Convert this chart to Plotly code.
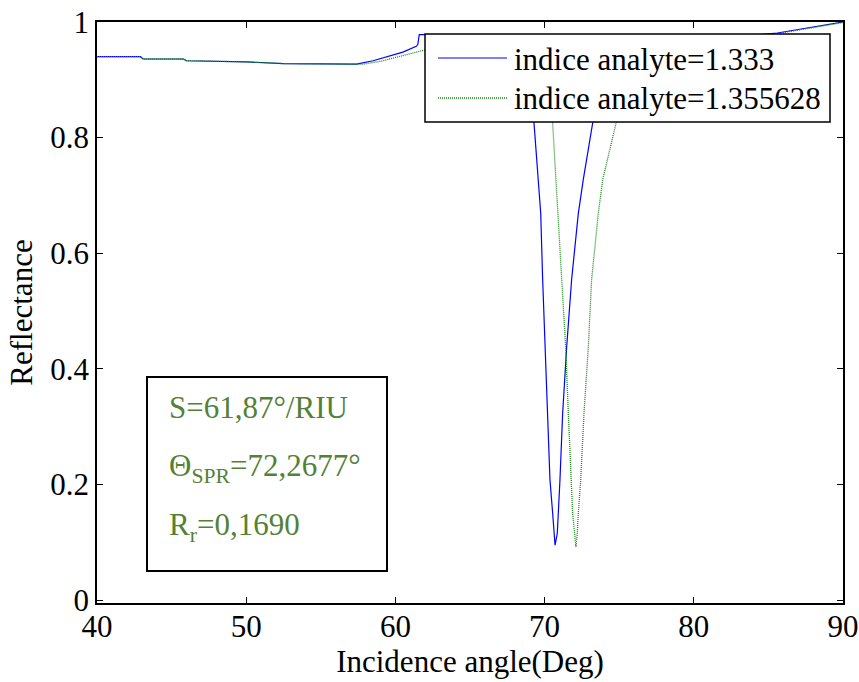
import plotly.graph_objects as go

# ---------------- data ----------------
blue_angle = [40, 42.9, 43.1, 45.8, 46.0, 50, 52.5, 55, 57.4, 58.5, 59.5, 60.5, 61.4, 61.5, 61.6,
              63, 65, 67, 68.3, 69.0, 69.29, 69.58, 69.74, 69.87, 70.03, 70.18, 70.36, 70.54, 70.70,
              70.85, 70.92, 71.03, 71.21, 71.48, 71.81, 72.26, 72.59, 73.22, 74.5, 76, 78, 80, 83,
              85.6, 87, 88.5, 90]
blue_refl = [0.940, 0.940, 0.936, 0.936, 0.933, 0.931, 0.928, 0.927, 0.927, 0.933, 0.940, 0.948, 0.958, 0.961, 0.978,
             0.978, 0.970, 0.950, 0.910, 0.870, 0.825, 0.727, 0.669, 0.554, 0.438, 0.323, 0.208, 0.150, 0.095,
             0.115, 0.150, 0.208, 0.323, 0.438, 0.554, 0.669, 0.727, 0.825, 0.900, 0.935, 0.955, 0.966, 0.975,
             0.981, 0.987, 0.994, 1.000]

green_angle = [40, 42.9, 43.1, 45.8, 46.0, 50, 52.5, 55, 57.8, 59, 60, 61, 62, 64, 66, 68, 69.5,
               70.2, 70.54, 70.76, 70.92, 71.14, 71.41, 71.59, 71.75, 71.88, 72.10, 72.19, 72.26,
               72.42, 72.64, 72.93, 73.15, 73.60, 73.89, 74.79, 76, 78, 80, 83, 85.6, 87, 88.5, 90]
green_refl = [0.940, 0.940, 0.936, 0.936, 0.933, 0.931, 0.928, 0.927, 0.927, 0.932, 0.938, 0.945, 0.952, 0.962, 0.965, 0.950, 0.910,
              0.870, 0.825, 0.727, 0.669, 0.554, 0.438, 0.323, 0.208, 0.150, 0.092, 0.115, 0.150,
              0.208, 0.323, 0.438, 0.554, 0.669, 0.727, 0.825, 0.895, 0.935, 0.955, 0.970, 0.980, 0.986, 0.993, 0.999]

series_names = ["indice analyte=1.333", "indice analyte=1.355628"]
x_ticks = [40, 50, 60, 70, 80, 90]
y_ticks = [0, 0.2, 0.4, 0.6, 0.8, 1]
y_ticktext = ["0", "0.2", "0.4", "0.6", "0.8", "1"]
info_lines = ["S=61,87°/RIU", "Θ<sub>SPR</sub>=72,2677°", "R<sub>r</sub>=0,1690"]

# ---------------- layout geometry ----------------
W, H = 859, 682
L, R, T, B = 97, 843, 22, 603
FONT = "Liberation Serif"
BLUE = "#0000ff"
GREEN = "#188a18"
TXT_GREEN = "#538135"


def px(x):
    return (x - L) / (R - L)


def py(y):
    return (B - y) / (B - T)


fig = go.Figure()
fig.add_trace(go.Scatter(x=blue_angle, y=blue_refl, mode="lines",
                         line=dict(color=BLUE, width=1.2), name=series_names[0], showlegend=False))
fig.add_trace(go.Scatter(x=green_angle, y=green_refl, mode="lines",
                         line=dict(color=GREEN, width=1.3, dash="1px,1px"), name=series_names[1],
                         showlegend=False))

shapes = []
annotations = []

# legend box (drawn manually)
shapes.append(dict(type="rect", xref="paper", yref="paper", x0=px(425), x1=px(830), y0=py(122), y1=py(34),
                   fillcolor="white", line=dict(color="black", width=1.5), layer="above"))
shapes.append(dict(type="line", xref="paper", yref="paper", x0=px(438), x1=px(507), y0=py(58), y1=py(58),
                   line=dict(color=BLUE, width=1.2), layer="above"))
shapes.append(dict(type="line", xref="paper", yref="paper", x0=px(438), x1=px(507), y0=py(98), y1=py(98),
                   line=dict(color=GREEN, width=1.3, dash="1px,1px"), layer="above"))
for name, yy in zip(series_names, [58, 98]):
    annotations.append(dict(text=name, xref="paper", yref="paper", x=px(512), y=py(yy + 1),
                            xanchor="left", yanchor="middle", showarrow=False,
                            font=dict(family=FONT, size=31, color="black")))

# info box
shapes.append(dict(type="rect", xref="paper", yref="paper", x0=px(147), x1=px(387), y0=py(571), y1=py(377),
                   fillcolor="white", line=dict(color="black", width=2), layer="above"))
for t, yy in zip(info_lines, [407, 468, 527]):
    annotations.append(dict(text=t, xref="paper", yref="paper", x=px(167), y=py(yy),
                            xanchor="left", yanchor="middle", showarrow=False,
                            font=dict(family=FONT, size=31, color=TXT_GREEN)))

fig.update_layout(
    template="none",
    width=W, height=H,
    margin=dict(l=L, r=W - R, t=T, b=H - B, autoexpand=False),
    paper_bgcolor="white", plot_bgcolor="white",
    font=dict(family=FONT, size=31, color="black"),
    shapes=shapes, annotations=annotations,
    showlegend=False,
)
fig.update_xaxes(range=[40, 90], tickvals=x_ticks, ticktext=[str(v) for v in x_ticks],
                 ticks="inside", ticklen=6, tickwidth=1, tickcolor="black",
                 showline=True, linecolor="black", linewidth=1.5, mirror="ticks",
                 showgrid=False, zeroline=False, automargin=False, ticklabelstandoff=-5,
                 title=dict(text="Incidence angle(Deg)", font=dict(family=FONT, size=31, color="black"), standoff=6),
                 tickfont=dict(family=FONT, size=31, color="black"))
fig.update_yaxes(range=[-3 / 578, 1.0], tickvals=y_ticks, ticktext=y_ticktext,
                 ticks="inside", ticklen=6, tickwidth=1, tickcolor="black",
                 showline=True, linecolor="black", linewidth=1.5, mirror="ticks",
                 showgrid=False, zeroline=False, automargin=False,
                 title=dict(text="Reflectance", font=dict(family=FONT, size=31, color="black"), standoff=8),
                 tickfont=dict(family=FONT, size=31, color="black"))

fig.write_html("out.html")
